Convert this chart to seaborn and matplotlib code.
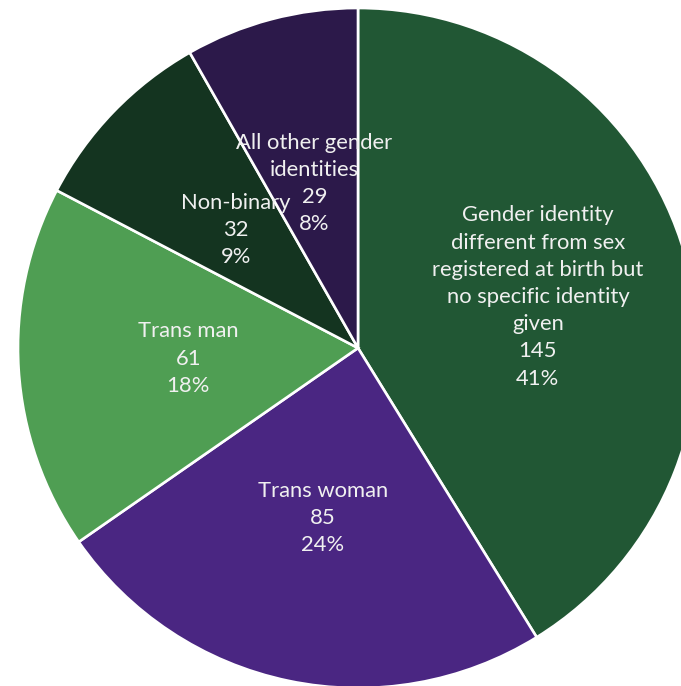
import numpy as np
import matplotlib
matplotlib.use("Agg")
import matplotlib.pyplot as plt
import seaborn as sns

categories = [
    "Gender identity\ndifferent from sex\nregistered at birth but\nno specific identity\ngiven",
    "Trans woman",
    "Trans man",
    "Non-binary",
    "All other gender\nidentities",
]
counts = [145, 85, 61, 32, 29]
percent_labels = ["41%", "24%", "18%", "9%", "8%"]
slice_colors = ["#215734", "#4A2682", "#4F9E53", "#143420", "#2C194A"]
label_radius = [0.55, 0.51, 0.50, 0.50, 0.50]

sns.set_theme(style="white")
plt.rcParams["font.family"] = ["Lato", "DejaVu Sans"]

fig = plt.figure(figsize=(6.81, 6.86), dpi=100)
ax = fig.add_axes([0, 0, 1, 1])

palette = sns.color_palette(slice_colors)
wedges, _ = ax.pie(
    counts,
    colors=palette,
    startangle=90,
    counterclock=False,
    radius=1.0,
    wedgeprops=dict(edgecolor="white", linewidth=1.9),
)

for w, cat, n, pct, r in zip(wedges, categories, counts, percent_labels, label_radius):
    mid = np.deg2rad((w.theta1 + w.theta2) / 2)
    x, y = r * np.cos(mid), r * np.sin(mid)
    ax.text(x, y, f"{cat}\n{n}\n{pct}", ha="center", va="center",
            color="#F0F0F0", fontsize=15.8, linespacing=1.45)

# Pie centre sits left of and above the figure centre, so the circle is
# clipped at the right and bottom edges.
ax.set_xlim(-358 / 340, (681 - 358) / 340)
ax.set_ylim(-(686 - 348) / 340, 348 / 340)
ax.set_aspect("auto")
ax.axis("off")

fig.savefig("out.png", dpi=100, facecolor="white")
